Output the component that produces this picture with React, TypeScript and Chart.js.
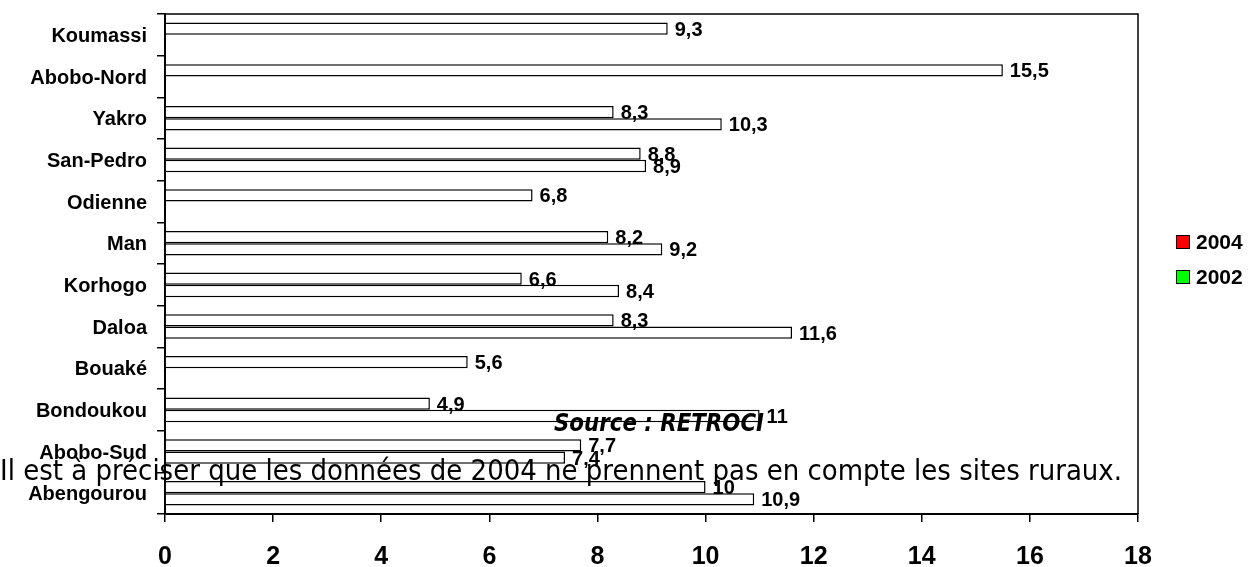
import React, { useEffect, useLayoutEffect, useRef, useState } from 'react';
import { Chart, registerables } from 'chart.js';

Chart.register(...registerables);

// ---- Data ----
const categories = [
  'Koumassi',
  'Abobo-Nord',
  'Yakro',
  'San-Pedro',
  'Odienne',
  'Man',
  'Korhogo',
  'Daloa',
  'Bouaké',
  'Bondoukou',
  'Abobo-Sud',
  'Abengourou',
];
const values2004: (number | null)[] = [9.3, 15.5, 8.3, 8.8, 6.8, 8.2, 6.6, 8.3, 5.6, 4.9, 7.7, 10];
const values2002: (number | null)[] = [null, null, 10.3, 8.9, null, 9.2, 8.4, 11.6, null, 11, 7.4, 10.9];
const seriesLabels = ['2004', '2002'];
const legendColors = ['#ff0000', '#00ff00'];
const xMin = 0;
const xMax = 18;
const xStep = 2;
const sourceText = 'Source : RETROCI';
const noteText = 'Il est à préciser que les données de 2004 ne prennent pas en compte les sites ruraux.';

const ARIAL = "'Liberation Sans', Arial, sans-serif";
const VERDANA = "'DejaVu Sans', Verdana, sans-serif";

function measure(text: string, font: string): number {
  const c = document.createElement('canvas');
  const ctx = c.getContext('2d')!;
  ctx.font = font;
  return ctx.measureText(text).width;
}

function FitText(props: {
  text: string;
  left: number;
  top: number;
  size: number;
  weight: string;
  style: string;
  family: string;
  width: number;
}) {
  const { text, left, top, size, weight, style, family, width } = props;
  const [scale, setScale] = useState(1);
  useLayoutEffect(() => {
    const w = measure(text, `${style} ${weight} ${size}px ${family}`);
    if (w > 0) setScale(width / w);
  }, [text, size, weight, style, family, width]);
  return (
    <div
      style={{
        position: 'absolute',
        left,
        top,
        fontFamily: family,
        fontSize: size,
        fontWeight: weight as any,
        fontStyle: style,
        lineHeight: 1,
        whiteSpace: 'nowrap',
        color: '#000',
        transform: `scaleX(${scale})`,
        transformOrigin: 'left top',
        pointerEvents: 'none',
      }}
    >
      {text}
    </div>
  );
}

const framePlugin = {
  id: 'frame',
  afterDraw(chart: any) {
    const { ctx, chartArea } = chart;
    ctx.save();
    ctx.strokeStyle = '#000';
    ctx.lineWidth = 1.5;
    ctx.beginPath();
    ctx.moveTo(chartArea.left, chartArea.top);
    ctx.lineTo(chartArea.right, chartArea.top);
    ctx.lineTo(chartArea.right, chartArea.bottom);
    ctx.stroke();
    ctx.restore();
  },
};

const valueLabelPlugin = {
  id: 'valueLabels',
  afterDatasetsDraw(chart: any) {
    const { ctx } = chart;
    ctx.save();
    ctx.fillStyle = '#000';
    ctx.font = `bold 20px ${ARIAL}`;
    ctx.textAlign = 'left';
    ctx.textBaseline = 'middle';
    chart.data.datasets.forEach((ds: any, di: number) => {
      const meta = chart.getDatasetMeta(di);
      meta.data.forEach((bar: any, i: number) => {
        const v = ds.data[i];
        if (v === null || v === undefined) return;
        const txt = String(v).replace('.', ',');
        ctx.fillText(txt, bar.x + 7, bar.y + 1.5);
      });
    });
    ctx.restore();
  },
};

export default function App() {
  const canvasRef = useRef<HTMLCanvasElement | null>(null);

  useEffect(() => {
    if (!canvasRef.current) return;
    const mk = (label: string, data: (number | null)[]) => ({
      label,
      data,
      backgroundColor: '#ffffff',
      borderColor: '#000000',
      borderWidth: 1.5,
      borderSkipped: 'start',
      categoryPercentage: 0.59,
      barPercentage: 1,
    });
    const chart = new Chart(canvasRef.current, {
      type: 'bar',
      data: {
        labels: categories,
        datasets: [mk(seriesLabels[0], values2004), mk(seriesLabels[1], values2002)] as any,
      },
      options: {
        indexAxis: 'y',
        responsive: false,
        animation: false,
        devicePixelRatio: 1,
        layout: { padding: { top: 14, right: 117, left: 0, bottom: 0 } },
        plugins: {
          legend: { display: false },
          tooltip: { enabled: false },
        },
        scales: {
          x: {
            type: 'linear',
            min: xMin,
            max: xMax,
            ticks: {
              stepSize: xStep,
              color: '#000',
              font: { family: ARIAL, size: 25, weight: 'bold' },
              padding: 20,
              maxRotation: 0,
            },
            grid: {
              drawOnChartArea: false,
              drawTicks: true,
              tickLength: 8,
              color: '#000',
              lineWidth: 1.5,
            },
            border: { display: true, color: '#000', width: 2 },
            afterFit: (s: any) => {
              s.height = 53;
              s.paddingLeft = 0;
              s.paddingRight = 0;
            },
          },
          y: {
            type: 'category',
            ticks: {
              color: '#000',
              font: { family: ARIAL, size: 20, weight: 'bold' },
              padding: 10,
              autoSkip: false,
              labelOffset: 1.5,
            },
            grid: {
              drawOnChartArea: false,
              drawTicks: true,
              tickLength: 8,
              color: '#000',
              lineWidth: 1.5,
              offset: true,
            },
            border: { display: true, color: '#000', width: 2 },
            afterFit: (s: any) => {
              s.width = 165;
              s.paddingTop = 0;
              s.paddingBottom = 0;
            },
          },
        },
      } as any,
      plugins: [framePlugin, valueLabelPlugin],
    });
    return () => chart.destroy();
  }, []);

  return (
    <div
      style={{
        position: 'absolute',
        left: 0,
        top: 0,
        width: 1255,
        height: 567,
        background: '#fff',
        overflow: 'hidden',
      }}
    >
      <canvas ref={canvasRef} width={1255} height={567} style={{ display: 'block' }} />
      {seriesLabels.map((lab, i) => (
        <div
          key={lab}
          style={{
            position: 'absolute',
            left: 1176,
            top: 233 + i * 35,
            height: 17,
            display: 'flex',
            alignItems: 'center',
          }}
        >
          <div
            style={{
              width: 12,
              height: 12,
              background: legendColors[i],
              border: '1.5px solid #000',
            }}
          />
          <span
            style={{
              marginLeft: 6,
              fontFamily: ARIAL,
              fontWeight: 'bold',
              fontSize: 21,
              lineHeight: 1,
              color: '#000',
            }}
          >
            {lab}
          </span>
        </div>
      ))}
      <FitText
        text={sourceText}
        left={554}
        top={411}
        size={24}
        weight="bold"
        style="italic"
        family={VERDANA}
        width={210}
      />
      <FitText
        text={noteText}
        left={0}
        top={456}
        size={29}
        weight="normal"
        style="normal"
        family={VERDANA}
        width={1122}
      />
    </div>
  );
}
